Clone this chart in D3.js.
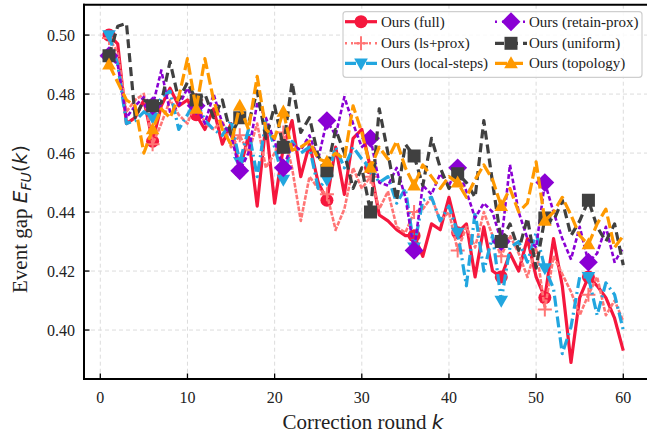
<!DOCTYPE html>
<html>
<head>
<meta charset="utf-8">
<script src="https://cdn.jsdelivr.net/npm/d3@7"></script>
<style>
  body { margin: 0; background: #fff; }
</style>
</head>
<body>
<div id="chart-container"></div>
<script>
// correction rounds 1..60
const rounds = d3.range(1, 61);
const xTicks = [0, 10, 20, 30, 40, 50, 60];
const yTicks = [0.40, 0.42, 0.44, 0.46, 0.48, 0.50];

const fullVals = [0.500,0.497,0.470,0.472,0.478,0.464,0.476,0.482,0.476,0.478,
  0.473,0.468,0.475,0.463,0.470,0.454,0.466,0.442,0.470,0.443,
  0.462,0.471,0.452,0.463,0.450,0.444,0.462,0.446,0.465,0.468,
  0.455,0.439,0.437,0.434,0.432,0.432,0.425,0.436,0.434,0.445,
  0.433,0.436,0.418,0.435,0.420,0.418,0.426,0.420,0.431,0.418,
  0.411,0.431,0.415,0.389,0.411,0.418,0.415,0.411,0.404,0.393];

const lsProxVals = [0.499,0.494,0.474,0.478,0.480,0.463,0.470,0.478,0.473,0.470,
  0.478,0.470,0.468,0.471,0.462,0.466,0.460,0.470,0.455,0.460,
  0.467,0.455,0.437,0.452,0.448,0.446,0.434,0.441,0.455,0.448,
  0.452,0.441,0.447,0.435,0.433,0.440,0.441,0.445,0.437,0.440,
  0.427,0.435,0.428,0.440,0.432,0.425,0.432,0.426,0.418,0.428,
  0.407,0.425,0.419,0.413,0.405,0.412,0.418,0.405,0.410,0.403];

const localStepsVals = [0.500,0.490,0.470,0.471,0.474,0.472,0.479,0.481,0.468,0.473,
  0.478,0.471,0.468,0.466,0.471,0.457,0.468,0.452,0.471,0.462,
  0.451,0.464,0.460,0.462,0.448,0.451,0.462,0.455,0.462,0.458,
  0.455,0.450,0.452,0.443,0.448,0.428,0.444,0.445,0.437,0.442,
  0.433,0.415,0.440,0.420,0.432,0.410,0.428,0.430,0.423,0.433,
  0.421,0.414,0.392,0.401,0.418,0.418,0.405,0.416,0.412,0.400];

const retainProxVals = [0.493,0.490,0.472,0.476,0.479,0.476,0.488,0.474,0.476,0.482,
  0.476,0.470,0.480,0.470,0.466,0.454,0.460,0.477,0.472,0.464,
  0.455,0.463,0.461,0.466,0.458,0.471,0.466,0.479,0.470,0.462,
  0.465,0.450,0.449,0.455,0.445,0.427,0.449,0.446,0.453,0.449,
  0.455,0.447,0.438,0.443,0.440,0.430,0.456,0.440,0.431,0.428,
  0.450,0.440,0.431,0.424,0.435,0.423,0.426,0.435,0.423,0.428];

const uniformVals = [0.493,0.503,0.504,0.472,0.478,0.476,0.477,0.491,0.478,0.484,
  0.478,0.480,0.472,0.478,0.466,0.472,0.470,0.481,0.465,0.476,
  0.462,0.484,0.467,0.472,0.459,0.454,0.468,0.460,0.448,0.455,
  0.440,0.475,0.460,0.444,0.463,0.459,0.449,0.465,0.455,0.448,
  0.453,0.450,0.445,0.471,0.450,0.430,0.436,0.427,0.438,0.421,
  0.438,0.437,0.444,0.432,0.437,0.444,0.435,0.430,0.436,0.422];

const topologyVals = [0.490,0.484,0.478,0.476,0.460,0.468,0.475,0.472,0.479,0.492,
  0.475,0.492,0.478,0.468,0.463,0.476,0.468,0.486,0.468,0.465,
  0.474,0.461,0.462,0.464,0.458,0.457,0.460,0.458,0.476,0.467,
  0.455,0.462,0.458,0.464,0.455,0.449,0.456,0.452,0.448,0.452,
  0.450,0.445,0.451,0.456,0.451,0.442,0.448,0.440,0.443,0.457,
  0.437,0.440,0.445,0.439,0.432,0.429,0.436,0.441,0.428,0.432];

const seriesNames = ["Ours (full)", "Ours (ls+prox)", "Ours (local-steps)",
                     "Ours (retain-prox)", "Ours (uniform)", "Ours (topology)"];
const seriesValues = [fullVals, lsProxVals, localStepsVals, retainProxVals, uniformVals, topologyVals];

const styles = [
  {color: "#f5173d", dash: null, width: 3.2, marker: "circle"},
  {color: "#ff7575", dash: "2,4", width: 2.6, marker: "plus"},
  {color: "#22a6df", dash: "11,4,2,4", width: 3.2, marker: "tri-down"},
  {color: "#8a00d4", dash: "2,5", width: 2.6, marker: "diamond"},
  {color: "#404040", dash: "9,5", width: 3.2, marker: "square"},
  {color: "#ff9900", dash: "12,4", width: 3.2, marker: "tri-up"}
];

const serif = "'Liberation Serif', 'DejaVu Serif', 'Times New Roman', serif";
const W = 647, H = 434;
const xScale = d3.scaleLinear().domain([-1.95, 62.95]).range([83.3, 649]);
const yScale = d3.scaleLinear().domain([0.3834, 0.5103]).range([379, 4.7]);

const svg = d3.select("#chart-container").append("svg")
  .attr("width", W).attr("height", H)
  .attr("font-family", serif);

svg.append("defs").append("clipPath").attr("id", "plot-clip")
  .append("rect").attr("x", 84).attr("y", 4.7).attr("width", 570).attr("height", 374.3);

// grid
const grid = svg.append("g");
xTicks.forEach(t => {
  grid.append("line").attr("x1", xScale(t)).attr("x2", xScale(t))
    .attr("y1", 4.7).attr("y2", 379)
    .attr("stroke", "#dcdcdc").attr("stroke-width", 1).attr("stroke-dasharray", "4,3");
});
yTicks.forEach(t => {
  grid.append("line").attr("x1", 84).attr("x2", 649)
    .attr("y1", yScale(t)).attr("y2", yScale(t))
    .attr("stroke", "#dcdcdc").attr("stroke-width", 1).attr("stroke-dasharray", "4,3");
});

function markerPath(type, s) {
  if (type === "circle") return d3.symbol(d3.symbolCircle, Math.PI * s * s)();
  if (type === "square") return `M${-s},${-s}H${s}V${s}H${-s}Z`;
  if (type === "diamond") { const d = s * 1.45; return `M0,${-d}L${d},0L0,${d}L${-d},0Z`; }
  if (type === "tri-up") return `M0,${-s * 1.1}L${s * 1.05},${s * 0.75}L${-s * 1.05},${s * 0.75}Z`;
  if (type === "tri-down") return `M0,${s * 1.1}L${s * 1.05},${-s * 0.75}L${-s * 1.05},${-s * 0.75}Z`;
  if (type === "plus") return `M${-s},0H${s}M0,${-s}V${s}`;
}

function drawMarker(g, type, color, x, y) {
  const p = g.append("path").attr("transform", `translate(${x},${y})`);
  if (type === "plus") {
    p.attr("d", markerPath(type, 7)).attr("fill", "none").attr("stroke", color).attr("stroke-width", 2);
  } else {
    p.attr("d", markerPath(type, 6.5)).attr("fill", color);
  }
}

const plot = svg.append("g").attr("clip-path", "url(#plot-clip)");
const line = d3.line().x((d, i) => xScale(rounds[i])).y(d => yScale(d));

seriesValues.forEach((vals, si) => {
  const st = styles[si];
  const g = plot.append("g");
  g.append("path").datum(vals)
    .attr("fill", "none").attr("stroke", st.color).attr("stroke-width", st.width)
    .attr("stroke-dasharray", st.dash).attr("stroke-linejoin", "round")
    .attr("stroke-linecap", st.dash && st.dash.startsWith("2,") ? "square" : "butt")
    .attr("d", line);
  vals.forEach((v, i) => {
    if (i % 5 === 0) drawMarker(g, st.marker, st.color, xScale(rounds[i]), yScale(v));
  });
});

// axes frame
svg.append("line").attr("x1", 84).attr("x2", 84).attr("y1", 3.7).attr("y2", 380)
  .attr("stroke", "#000").attr("stroke-width", 2);
svg.append("line").attr("x1", 83).attr("x2", 647).attr("y1", 379).attr("y2", 379)
  .attr("stroke", "#000").attr("stroke-width", 2);
svg.append("line").attr("x1", 83).attr("x2", 647).attr("y1", 4.7).attr("y2", 4.7)
  .attr("stroke", "#000").attr("stroke-width", 2);

xTicks.forEach(t => {
  svg.append("line").attr("x1", xScale(t)).attr("x2", xScale(t))
    .attr("y1", 378).attr("y2", 373.5).attr("stroke", "#000").attr("stroke-width", 1.3);
  svg.append("text").attr("x", xScale(t)).attr("y", 403)
    .attr("text-anchor", "middle").attr("font-size", 16).attr("fill", "#222").text(t);
});
yTicks.forEach(t => {
  svg.append("line").attr("x1", 85).attr("x2", 89.5)
    .attr("y1", yScale(t)).attr("y2", yScale(t)).attr("stroke", "#000").attr("stroke-width", 1.3);
  svg.append("text").attr("x", 75).attr("y", yScale(t) + 5.5)
    .attr("text-anchor", "end").attr("font-size", 16).attr("fill", "#222").text(t.toFixed(2));
});

// axis labels
const xl = svg.append("text").attr("x", 363).attr("y", 429)
  .attr("text-anchor", "middle").attr("font-size", 21).attr("fill", "#222");
xl.append("tspan").text("Correction round ");
xl.append("tspan").attr("font-family", "DejaVu Sans").attr("font-style", "italic").attr("font-size", 20).text("k");

const yl = svg.append("text").attr("transform", "translate(27,219) rotate(-90)")
  .attr("text-anchor", "middle").attr("font-size", 21).attr("fill", "#222");
yl.append("tspan").text("Event gap ");
yl.append("tspan").attr("font-family", "DejaVu Sans").attr("font-style", "italic").attr("font-size", 20).text("E");
yl.append("tspan").attr("font-family", "DejaVu Sans").attr("font-style", "italic").attr("font-size", 14).attr("dy", 4).text("FU");
yl.append("tspan").attr("font-family", "DejaVu Sans").attr("font-size", 20).attr("dy", -4).text("(");
yl.append("tspan").attr("font-family", "DejaVu Sans").attr("font-style", "italic").attr("font-size", 20).text("k");
yl.append("tspan").attr("font-family", "DejaVu Sans").attr("font-size", 20).text(")");

// legend
const leg = svg.append("g");
leg.append("rect").attr("x", 343).attr("y", 11.7).attr("width", 299).attr("height", 65.6)
  .attr("rx", 3).attr("fill", "#fff").attr("fill-opacity", 0.85)
  .attr("stroke", "#cfcfcf").attr("stroke-width", 1.2);
const legCols = [{hx: 345, mx: 361, tx: 381}, {hx: 495, mx: 511, tx: 529}];
const legRows = [21.7, 43.3, 63.3];
seriesNames.forEach((name, i) => {
  const c = legCols[Math.floor(i / 3)], y = legRows[i % 3], st = styles[i];
  leg.append("line").attr("x1", c.hx).attr("x2", c.hx + 32).attr("y1", y).attr("y2", y)
    .attr("stroke", st.color).attr("stroke-width", st.width)
    .attr("stroke-dasharray", st.dash);
  drawMarker(leg, st.marker, st.color, c.mx, y);
  leg.append("text").attr("x", c.tx).attr("y", y + 5).attr("font-size", 15)
    .attr("fill", "#222").text(name);
});
</script>
</body>
</html>
